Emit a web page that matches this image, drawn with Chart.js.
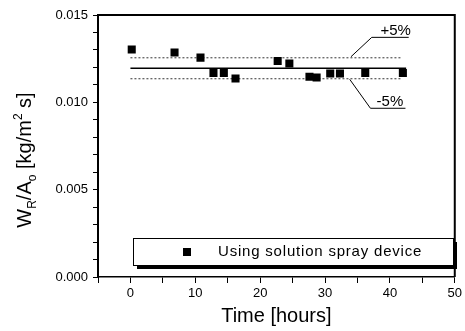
<!DOCTYPE html>
<html>
<head>
<meta charset="utf-8">
<script src="https://cdn.jsdelivr.net/npm/chart.js@4.4.0/dist/chart.umd.min.js"></script>
<style>
  html, body { margin: 0; padding: 0; background: #fff; }
  canvas { display: block; }
</style>
</head>
<body>
<canvas id="grafico" width="465" height="331"></canvas>
<script>
// ========== DADOS ==========
const tempo = [0.2, 6.8, 10.8, 12.8, 14.4, 16.2, 22.7, 24.5, 27.6, 28.7, 30.8, 32.3, 36.2, 42.0];
const taxa = [0.01302, 0.01285, 0.01256, 0.01168, 0.01168, 0.01136, 0.01237, 0.01222,
              0.01146, 0.01142, 0.01165, 0.01165, 0.01168, 0.01168];

const mediaX = [0, 42.5];
const media = [0.01195, 0.01195];
const faixaX = [0, 41.8];
const mais5 = [0.01255, 0.01255];
const menos5 = [0.01135, 0.01135];

const xTicks = [0, 10, 20, 30, 40, 50];
const yTicks = [0.000, 0.005, 0.010, 0.015];

const legenda = 'Using solution spray device';

// setas das anotações (+5% / -5%)
const setaMaisX = [34.0, 37.2, 42.9];
const setaMaisY = [0.01261, 0.01372, 0.01372];
const setaMenosX = [33.8, 37.0, 42.4];
const setaMenosY = [0.01132, 0.00966, 0.00966];

const FONTE = '"Liberation Sans", Arial, sans-serif';

function pares(xs, ys) {
  return xs.map((v, i) => ({ x: v, y: ys[i] }));
}

// ========== PLUGIN (moldura, título Y, legenda, textos) ==========
const extras = {
  id: 'extras',
  afterDraw(chart) {
    const { ctx, chartArea: a, scales: { x, y } } = chart;
    ctx.save();

    // moldura superior e direita
    ctx.strokeStyle = '#000';
    ctx.lineWidth = 2;
    ctx.beginPath();
    ctx.moveTo(a.left, a.top);
    ctx.lineTo(a.right, a.top);
    ctx.lineTo(a.right, a.bottom);
    ctx.stroke();

    // textos +5% / -5%
    ctx.fillStyle = '#000';
    ctx.font = '15px ' + FONTE;
    ctx.textAlign = 'center';
    ctx.textBaseline = 'alphabetic';
    ctx.fillText('+5%', x.getPixelForValue(40.9), y.getPixelForValue(setaMaisY[1]) - 2);
    ctx.fillText('-5%', x.getPixelForValue(40.0), y.getPixelForValue(setaMenosY[1]) - 2);

    // legenda com sombra
    const lx = a.left + 35, ly = a.bottom - 39, lw = 320, lh = 27;
    ctx.fillStyle = '#000';
    ctx.fillRect(lx + 4, ly + 4, lw, lh);
    ctx.fillStyle = '#fff';
    ctx.fillRect(lx, ly, lw, lh);
    ctx.lineWidth = 1;
    ctx.strokeRect(lx + 0.5, ly + 0.5, lw, lh);
    ctx.fillStyle = '#000';
    ctx.fillRect(lx + 50, ly + 10, 8, 8);
    ctx.font = '15px ' + FONTE;
    ctx.letterSpacing = '0.8px';
    ctx.textAlign = 'left';
    ctx.textBaseline = 'middle';
    ctx.fillText(legenda, lx + 85, ly + 14);
    ctx.letterSpacing = '0px';

    // título do eixo Y com subscritos
    const partes = [
      ['W', 20, 0], ['R', 12, 5], ['/A', 20, 0], ['o', 12, 5],
      [' [kg/m', 20, 0], ['2', 12, -9], [' s]', 20, 0]
    ];
    let total = 0;
    partes.forEach(p => { ctx.font = p[1] + 'px ' + FONTE; total += ctx.measureText(p[0]).width; });
    ctx.translate(31, 160);
    ctx.rotate(-Math.PI / 2);
    ctx.textAlign = 'left';
    ctx.textBaseline = 'alphabetic';
    let px = -total / 2;
    partes.forEach(p => {
      ctx.font = p[1] + 'px ' + FONTE;
      ctx.fillText(p[0], px, p[2]);
      px += ctx.measureText(p[0]).width;
    });

    ctx.restore();
  }
};

// ========== GRÁFICO ==========
const ctx = document.getElementById('grafico').getContext('2d');
new Chart(ctx, {
  type: 'scatter',
  data: {
    datasets: [
      {
        label: legenda,
        data: pares(tempo, taxa),
        pointStyle: 'rect',
        pointRadius: 5.7,
        backgroundColor: '#000',
        borderColor: '#000',
        borderWidth: 0
      },
      {
        data: pares(mediaX, media),
        showLine: true, pointRadius: 0,
        borderColor: '#000', borderWidth: 1.3
      },
      {
        data: pares(faixaX, mais5),
        showLine: true, pointRadius: 0,
        borderColor: '#333', borderWidth: 1, borderDash: [2, 2]
      },
      {
        data: pares(faixaX, menos5),
        showLine: true, pointRadius: 0,
        borderColor: '#333', borderWidth: 1, borderDash: [2, 2]
      },
      {
        data: pares(setaMaisX, setaMaisY),
        showLine: true, pointRadius: 0,
        borderColor: '#000', borderWidth: 1
      },
      {
        data: pares(setaMenosX, setaMenosY),
        showLine: true, pointRadius: 0,
        borderColor: '#000', borderWidth: 1
      }
    ]
  },
  options: {
    responsive: false,
    animation: false,
    layout: { padding: { top: 15, right: 7, left: 0, bottom: 0 } },
    plugins: {
      legend: { display: false },
      tooltip: { enabled: false }
    },
    scales: {
      x: {
        type: 'linear',
        min: -5, max: 50,
        afterFit: s => { s.height = 54; },
        border: { display: true, color: '#000', width: 1.5 },
        grid: { drawOnChartArea: false, drawTicks: true, tickLength: 6, tickColor: '#000' },
        ticks: {
          stepSize: 5,
          autoSkip: false,
          maxRotation: 0,
          padding: 3,
          color: '#000',
          font: { family: FONTE, size: 13 },
          callback: v => xTicks.includes(v) ? String(v) : ''
        },
        title: {
          display: true,
          text: 'Time [hours]',
          color: '#000',
          font: { family: FONTE, size: 20 },
          padding: { top: 0, bottom: 3 }
        }
      },
      y: {
        min: 0, max: 0.015,
        afterFit: s => { s.width = 98; },
        border: { display: true, color: '#000', width: 2 },
        grid: { drawOnChartArea: false, drawTicks: true, tickLength: 5, tickColor: '#000' },
        ticks: {
          stepSize: 0.001,
          autoSkip: false,
          padding: 5,
          color: '#000',
          font: { family: FONTE, size: 13 },
          callback: v => yTicks.some(t => Math.abs(t - v) < 1e-9) ? v.toFixed(3) : ''
        }
      }
    }
  },
  plugins: [extras]
});
</script>
</body>
</html>
